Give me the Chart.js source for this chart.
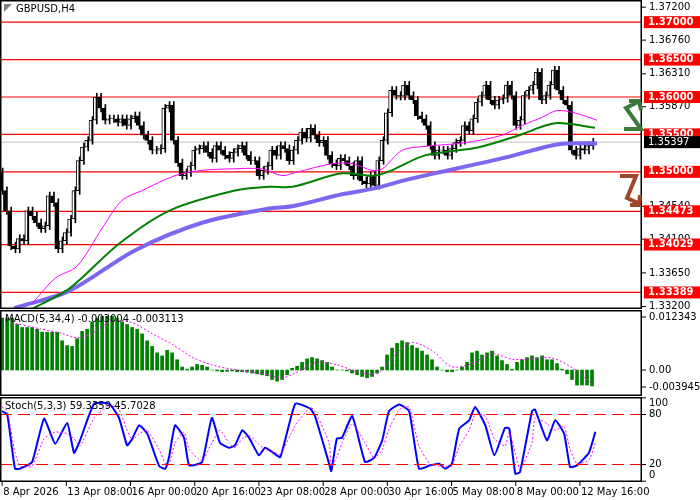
<!DOCTYPE html>
<html><head><meta charset="utf-8">
<script src="https://cdn.jsdelivr.net/npm/chart.js@4.4.1/dist/chart.umd.min.js"></script>
<style>
body{margin:0;background:#fff;width:700px;height:500px;overflow:hidden;position:relative;font-family:"DejaVu Sans",sans-serif}
canvas{position:absolute;left:0}
</style></head><body>
<canvas id="c1" style="top:0px" width="700" height="309"></canvas>
<canvas id="c2" style="top:310px" width="700" height="86"></canvas>
<canvas id="c3" style="top:397px" width="700" height="103"></canvas>
<script>
const symbolTitle = "GBPUSD,H4";
const closes = [1.3475,1.3448,1.3401,1.3397,1.3411,1.3408,1.3448,1.3441,1.3432,1.3424,
1.3428,1.3468,1.3459,1.3397,1.3408,1.3419,1.3437,1.3475,1.3515,1.3533,
1.3542,1.3569,1.3600,1.3585,1.3569,1.3571,1.3571,1.3566,1.3571,1.3562,
1.3571,1.3575,1.3562,1.3549,1.3542,1.3529,1.3529,1.3531,1.3585,1.3589,
1.3542,1.3512,1.3495,1.3499,1.3508,1.3529,1.3531,1.3535,1.3526,1.3518,
1.3535,1.3529,1.3522,1.3518,1.3526,1.3531,1.3535,1.3522,1.3515,1.3515,
1.3495,1.3502,1.3508,1.3529,1.3522,1.3535,1.3531,1.3515,1.3529,1.3542,
1.3553,1.3545,1.3558,1.3549,1.3539,1.3542,1.3522,1.3511,1.3508,1.3518,
1.3515,1.3508,1.3495,1.3515,1.3488,1.3484,1.3495,1.3482,1.3515,1.3542,
1.3579,1.3609,1.3602,1.3601,1.3616,1.3602,1.3596,1.3575,1.3571,1.3562,
1.3535,1.3522,1.3529,1.3529,1.3522,1.3531,1.3539,1.3542,1.3562,1.3555,
1.3571,1.3593,1.3602,1.3616,1.3596,1.3589,1.3596,1.3598,1.3616,1.3602,
1.3562,1.3569,1.3602,1.3609,1.3616,1.3633,1.3596,1.3602,1.3616,1.3636,
1.3609,1.3596,1.3589,1.3529,1.3522,1.3531,1.3529,1.3535,1.35397];
const firstOpen = 1.3500;
const maFastIdx = [7,12.4,17.5,23.4,28,32.7,40.4,46.7,53.7,60.7,65.4,68.5,77.1,81.8,86.4,88.8,93.5,98.8,108.2,116.8,121.5,126.2,129.7,134.3,139];
const maFast = [1.3324,1.3358,1.3374,1.3425,1.3462,1.3475,1.3495,1.3502,1.3504,1.3504,1.3495,1.3499,1.3511,1.3511,1.3502,1.3504,1.3529,1.3534,1.3539,1.3549,1.3562,1.3573,1.3582,1.3578,1.3569];
const maMidIdx = [7,15.7,27.3,39,54.4,62.4,67.8,79.4,87,91,98.8,111.4,120.8,129.2,138.5];
const maMid = [1.3317,1.3344,1.3404,1.3448,1.3475,1.3480,1.3480,1.3498,1.3495,1.3502,1.3522,1.3533,1.3549,1.3565,1.3559];
const maSlowIdx = [2.8,15.7,31,46.7,62.4,67.8,79.4,87,93.5,101,117.5,130,139];
const maSlow = [1.3318,1.3341,1.3395,1.3432,1.3451,1.3454,1.3470,1.3478,1.3488,1.3498,1.3519,1.3537,1.3538];
const levels = [1.37000,1.36500,1.36000,1.35500,1.35000,1.34473,1.34029,1.33389];
const levelLabels = ["1.37000","1.36500","1.36000","1.35500","1.35000","1.34473","1.34029","1.33389"];
const lastPrice = 1.35397;
const priceTicks = [1.37200,1.36760,1.36310,1.35870,1.34540,1.34100,1.33650,1.33200];
const macdHist = [0.0121,0.0121,0.0121,0.0106,0.0099,0.0099,0.0099,0.0095,0.0088,0.0088,0.0088,0.0088,0.0068,0.0057,0.0055,0.0073,0.009,0.0095,0.0112,0.0121,
0.0125,0.0125,0.0125,0.0121,0.0112,0.0106,0.0099,0.0095,0.0084,0.0068,0.0055,0.004,0.0033,0.0046,0.004,0.0024,0.0007,0.0002,0.0007,0.0013,
0.0011,0.0007,0,-0.0002,-0.0004,-0.0003,-0.0002,-0.0004,-0.0004,-0.0005,-0.0007,-0.0009,-0.0011,-0.0013,-0.0022,-0.0026,-0.0022,-0.0011,0.0004,0.0009,
0.0018,0.0026,0.0029,0.0026,0.0022,0.0018,0.0007,0,0,-0.0002,-0.0007,-0.0011,-0.0015,-0.0018,-0.0015,-0.0007,0.0007,0.0035,0.0051,0.0062,
0.0068,0.0064,0.0057,0.0051,0.0044,0.0035,0.0024,0.0007,0,-0.0004,-0.0004,0,0.0007,0.0018,0.004,0.0044,0.0035,0.004,0.0044,0.0033,
0.0022,0.0013,0.0002,0.0018,0.0024,0.0029,0.0033,0.0029,0.0033,0.0024,0.0024,0.0015,0.0002,-0.0009,-0.0022,-0.0035,-0.0035,-0.0035,-0.0037];
const macdSigIdx = [2.3,9.3,14,17.5,21,25.7,30.4,35,39.7,44.4,49,53.7,60.7,65.4,68.9,73.6,78.3,83,87.6,92.3,95.8,100.5,105,109.8,114.5,119.2,123.8,128.5,133.2,137.9];
const macdSig = [0.011,0.0095,0.0085,0.0075,0.0085,0.0115,0.011,0.0085,0.006,0.003,0.0012,0.0002,-0.0008,-0.0018,-0.0005,0.0018,0.0012,-0.0004,-0.0008,0.004,0.0064,0.0045,0.0008,0.0015,0.0038,0.0025,0.0026,0.0028,0.0005,-0.0033];
const macdTicks = [0.012343,0.00,-0.003945];
const macdTickLabels = ["0.012343","0.00","-0.003945"];
const stochIdx = [0,1.2,3,4.2,7,9.8,12.4,15.2,16.8,18.2,21.5,25,27.3,29.2,30.4,32,33.9,36.7,38.1,39,40.4,42.5,43.7,46.7,49,50.9,53,54.4,56.1,57.7,60,61.4,63.1,65,68.5,72,73.1,76.4,76.9,78.2,79.4,81.8,84.8,86.9,88.8,90.4,92.8,95.1,97.4,100,102.1,103.5,105.1,106.8,109.1,110.5,112.9,115,117.5,118.5,119.9,121,123.8,124.5,127.3,129.2,131.3,132.7,134.3,137.1,138.6];
const stochK = [84,80,15,15,23,75,45,70,34,49,93,93,76,43,51,67,57,18,15,29,67,52,19,23,76,46,40,43,61,52,31,40,35,29,93,87,78,21,12,51,52,78,23,28,49,84,92,84,15,19,21,15,21,63,73,89,67,31,64,63,9,11,84,86,49,73,57,17,19,34,59.34];
const stochD = [89,84,34,18,18,51,59,57,51,42,76,91,86,61,49,57,61,38,21,20,46,59,38,24,46,61,46,40,51,55,44,38,36,32,67,89,84,46,18,29,46,69,46,27,38,63,86,89,42,20,18,18,18,42,61,80,78,51,42,59,34,13,46,76,69,61,66,38,21,25,45.70];
const stochTicks = [100,80,20,0];
const timeLabels = ["8 Apr 2026","13 Apr 08:00","16 Apr 00:00","20 Apr 16:00","23 Apr 08:00","28 Apr 00:00","30 Apr 16:00","5 May 08:00","8 May 00:00","12 May 16:00"];
const timeLabelIdx = [0,15,30,45,60,75,90,105,120,135];

Chart.defaults.animation = false;
Chart.defaults.font.family = "DejaVu Sans";
const XMIN=-0.5, XMAX=149.5, AXW=58;
const FONT = "10px 'DejaVu Sans'";

const opens = closes.map((c,i)=> i===0 ? firstOpen : closes[i-1]);
const wick = 0.0005;
const wicks = closes.map((c,i)=>({x:i,y:[Math.min(opens[i],c)-wick,Math.max(opens[i],c)+wick]}));
const bodies = closes.map((c,i)=>{let o=opens[i]; if(Math.abs(o-c)<0.00005) o=c+0.00005; return {x:i,y:[o,c]};});
const up = closes.map((c,i)=>c>=opens[i]);
const pts = (xs,ys)=>xs.map((x,i)=>({x,y:ys[i]}));

function baseX(){return {type:'linear',min:XMIN,max:XMAX,offset:false,bounds:'ticks',display:false};}
function yAxis(min,max){return {type:'linear',position:'right',min,max,display:true,
  grid:{display:false,drawTicks:false},border:{display:false},ticks:{display:false},
  afterFit(s){s.width=AXW;}};}
function frame(extra){
  return {id:'frame',afterDatasetsDraw(ch){
    const {ctx,chartArea:a}=ch; ctx.save();
    ctx.strokeStyle='#000'; ctx.lineWidth=1.5;
    ctx.strokeRect(a.left+0.75,a.top+0.75,a.right-a.left-1.5,a.bottom-a.top-1.5);
    ctx.restore(); extra && extra(ch);
  }};
}
function tickText(ch,vals,labels,clamp){
  const {ctx,chartArea:a}=ch, y=ch.scales.y; ctx.save();
  ctx.font=FONT; ctx.fillStyle='#000'; ctx.textBaseline='middle'; ctx.strokeStyle='#000';
  vals.forEach((v,i)=>{let py=y.getPixelForValue(v);
    ctx.beginPath(); ctx.moveTo(a.right,py); ctx.lineTo(a.right+4,py); ctx.stroke();
    if(clamp) py=Math.min(Math.max(py,a.top+6),a.bottom-7);
    ctx.fillText(labels[i],a.right+7,py);});
  ctx.restore();
}

new Chart(document.getElementById('c1'),{
  data:{datasets:[
    ...levels.map(l=>({type:'line',data:[{x:XMIN,y:l},{x:XMAX,y:l}],borderColor:'#ff0000',borderWidth:1.2,pointRadius:0,order:10})),
    {type:'line',data:[{x:XMIN,y:lastPrice},{x:XMAX,y:lastPrice}],borderColor:'#c0c0c0',borderWidth:1,pointRadius:0,order:9},
    {type:'line',data:pts(maSlowIdx,maSlow),borderColor:'#7b68ee',borderWidth:4,pointRadius:0,tension:0.3,order:3},
    {type:'line',data:pts(maMidIdx,maMid),borderColor:'#008000',borderWidth:2,pointRadius:0,tension:0.3,order:2},
    {type:'line',data:pts(maFastIdx,maFast),borderColor:'#ff00ff',borderWidth:1,pointRadius:0,tension:0.3,order:1},
    {type:'bar',data:wicks,backgroundColor:'#000',barThickness:1,order:5},
    {type:'bar',data:bodies,backgroundColor:up.map(u=>u?'#fff':'#000'),borderColor:'#000',borderWidth:1,borderSkipped:false,barThickness:3,order:4}
  ]},
  options:{responsive:false,layout:{padding:0},plugins:{legend:{display:false},tooltip:{enabled:false}},
    scales:{x:baseX(),y:yAxis(1.33168,1.37296)}},
  plugins:[frame(ch=>{
    const {ctx,chartArea:a}=ch, y=ch.scales.y;
    tickText(ch,priceTicks,priceTicks.map(v=>v.toFixed(5)));
    ctx.save(); ctx.font="bold 10px 'DejaVu Sans'"; ctx.textBaseline='middle';
    levels.forEach((l,i)=>{const py=y.getPixelForValue(l);
      ctx.fillStyle='#ff0000'; ctx.fillRect(a.right+2,py-6,56,12);
      ctx.fillStyle='#fff'; ctx.fillText(levelLabels[i],a.right+6,py);});
    const pl=y.getPixelForValue(lastPrice);
    ctx.fillStyle='#000'; ctx.fillRect(a.right+2,pl-6,56,12);
    ctx.fillStyle='#fff'; ctx.font="10px 'DejaVu Sans'"; ctx.fillText(lastPrice.toFixed(5),a.right+6,pl);
    ctx.fillStyle='#000'; ctx.font="10px 'DejaVu Sans'"; ctx.textBaseline='top';
    ctx.fillText(symbolTitle,16,4);
    ctx.fillStyle='#808080'; ctx.beginPath(); ctx.moveTo(4,4); ctx.lineTo(12,4); ctx.lineTo(4,12); ctx.fill();
    ctx.lineWidth=4; ctx.lineCap='butt'; ctx.lineJoin='miter';
    ctx.strokeStyle='#3c7a3c';
    ctx.beginPath(); ctx.moveTo(624,129); ctx.lineTo(641,129); ctx.lineTo(626,108); ctx.lineTo(638,102); ctx.stroke();
    ctx.beginPath(); ctx.moveTo(629,101); ctx.lineTo(639,101); ctx.lineTo(641,110); ctx.stroke();
    ctx.strokeStyle='#a0462a';
    ctx.beginPath(); ctx.moveTo(620,176); ctx.lineTo(636,176); ctx.lineTo(627,198); ctx.lineTo(638,203); ctx.stroke();
    ctx.beginPath(); ctx.moveTo(630,205); ctx.lineTo(639,205); ctx.lineTo(640,195); ctx.stroke();
    ctx.restore();
  })]
});

new Chart(document.getElementById('c2'),{
  data:{datasets:[
    {type:'line',data:pts(macdSigIdx,macdSig),borderColor:'#ff00ff',borderWidth:1,borderDash:[2,2],pointRadius:0,tension:0.3,order:1},
    {type:'bar',data:macdHist.map((v,k)=>({x:k*1.168,y:v})),backgroundColor:'#008000',barThickness:3,order:2}
  ]},
  options:{responsive:false,layout:{padding:0},plugins:{legend:{display:false},tooltip:{enabled:false}},
    scales:{x:baseX(),y:yAxis(-0.00604,0.01397)}},
  plugins:[frame(ch=>{
    tickText(ch,macdTicks,macdTickLabels);
    const ctx=ch.ctx; ctx.save(); ctx.font=FONT; ctx.fillStyle='#000'; ctx.textBaseline='top';
    ctx.fillText("MACD(5,34,4) -0.003004 -0.003113",5,4); ctx.restore();
  })]
});

new Chart(document.getElementById('c3'),{
  data:{datasets:[
    {type:'line',data:[{x:XMIN,y:80},{x:XMAX,y:80}],borderColor:'#ff0000',borderWidth:1.2,borderDash:[12,6],pointRadius:0},
    {type:'line',data:[{x:XMIN,y:20},{x:XMAX,y:20}],borderColor:'#ff0000',borderWidth:1.2,borderDash:[12,6],pointRadius:0},
    {type:'line',data:pts(stochIdx,stochD),borderColor:'#ff00ff',borderWidth:1,borderDash:[2,2],pointRadius:0,tension:0.15},
    {type:'line',data:pts(stochIdx,stochK),borderColor:'#0000ff',borderWidth:2,pointRadius:0,tension:0.15}
  ]},
  options:{responsive:false,layout:{padding:{bottom:18}},plugins:{legend:{display:false},tooltip:{enabled:false}},
    scales:{x:baseX(),y:yAxis(-1,101)}},
  plugins:[frame(ch=>{
    tickText(ch,stochTicks,stochTicks.map(String),true);
    const {ctx,chartArea:a}=ch, x=ch.scales.x; ctx.save();
    ctx.font=FONT; ctx.fillStyle='#000'; ctx.strokeStyle='#000'; ctx.textBaseline='top';
    ctx.fillText("Stoch(5,3,3) 59.3359 45.7028",5,4);
    timeLabelIdx.forEach((t,i)=>{const px=x.getPixelForValue(t);
      ctx.beginPath(); ctx.moveTo(px,a.bottom); ctx.lineTo(px,a.bottom+4); ctx.stroke();
      ctx.fillText(timeLabels[i],px+1,a.bottom+5);});
    ctx.restore();
  })]
});
</script></body></html>
